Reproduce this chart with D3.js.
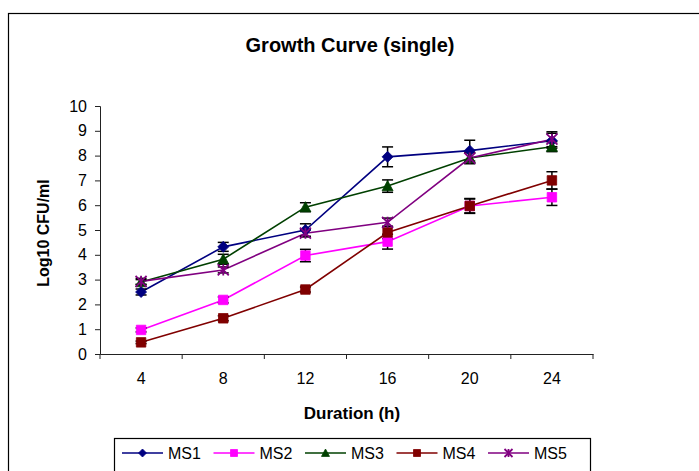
<!DOCTYPE html>
<html>
<head>
<meta charset="utf-8">
<script src="https://cdn.jsdelivr.net/npm/d3@7"></script>
<style>
  body { margin: 0; background: #fff; }
  svg { display: block; font-family: "Liberation Sans", Arial, sans-serif; }
</style>
</head>
<body>
<div id="chart"></div>
<script>
// values (log10 CFU/ml), with error bar half-widths
const hours = ["4", "8", "12", "16", "20", "24"];
const seriesNames = ["MS1", "MS2", "MS3", "MS4", "MS5"];
const ms1 = [2.5, 4.32, 5.0, 7.95, 8.2, 8.6];
const ms2 = [0.97, 2.18, 3.97, 4.53, 5.97, 6.32];
const ms3 = [2.9, 3.82, 5.92, 6.77, 7.9, 8.36];
const ms4 = [0.47, 1.44, 2.6, 4.9, 5.97, 7.0];
const ms5 = [2.93, 3.39, 4.87, 5.31, 7.9, 8.66];
const ms1Err = [0.12, 0.18, 0.25, 0.4, 0.42, 0.3];
const ms2Err = [0.08, 0.12, 0.25, 0.3, 0.28, 0.33];
const ms3Err = [0.1, 0.2, 0.18, 0.25, 0.22, 0.2];
const ms4Err = [0.05, 0.1, 0.1, 0.25, 0.3, 0.35];
const ms5Err = [0.12, 0.12, 0.15, 0.17, 0.22, 0.3];
const yTicks = [0, 1, 2, 3, 4, 5, 6, 7, 8, 9, 10];

const values = [ms1, ms2, ms3, ms4, ms5];
const errors = [ms1Err, ms2Err, ms3Err, ms4Err, ms5Err];

const colors = ["#000080", "#ff00ff", "#004000", "#800000", "#800080"];
const shapes = ["diamond", "square", "triangle", "square", "asterisk"];

const width = 699, height = 471;
const plot = { left: 100, right: 593, top: 106, bottom: 354 };

const svg = d3.select("#chart").append("svg")
  .attr("width", width)
  .attr("height", height);

// chart frame (runs off the right and bottom edge, like the reference)
svg.append("rect")
  .attr("x", 8.5).attr("y", 13.5)
  .attr("width", 720).attr("height", 480)
  .attr("fill", "none").attr("stroke", "#000").attr("stroke-width", 1.2);

var x = d3.scaleBand()
  .domain(hours)
  .range([plot.left, plot.right])
  .padding(0);

var y = d3.scaleLinear()
  .domain([0, 10])
  .range([plot.bottom, plot.top]);

function cx(i) { return x(hours[i]) + x.bandwidth() / 2; }

function markerPath(shape, s) {
  var r = s / 2;
  if (shape === "diamond") return "M0," + (-r) + "L" + r + ",0L0," + r + "L" + (-r) + ",0Z";
  if (shape === "triangle") return "M0," + (-r) + "L" + r + "," + (r * 0.85) + "L" + (-r) + "," + (r * 0.85) + "Z";
  if (shape === "asterisk") {
    return "M" + (-r) + "," + (-r) + "L" + r + "," + r +
      "M" + (-r) + "," + r + "L" + r + "," + (-r) +
      "M0," + (-r) + "L0," + r;
  }
  return d3.symbol(d3.symbolSquare, s * s)();
}

function drawMarker(g, shape, color, s) {
  var p = g.append("path").attr("d", markerPath(shape, s));
  if (shape === "asterisk") {
    p.attr("fill", "none").attr("stroke", color).attr("stroke-width", 1.8);
  } else {
    p.attr("fill", color).attr("stroke", color).attr("stroke-width", 0.8);
  }
  return p;
}

// y axis
var yAxis = svg.append("g")
  .attr("transform", "translate(" + plot.left + ",0)")
  .call(d3.axisLeft(y).tickValues(yTicks).tickSize(5).tickPadding(8));
yAxis.select(".domain").attr("stroke", "#222");
yAxis.selectAll(".tick line").attr("stroke", "#222");
yAxis.selectAll("text").attr("font-size", 16).attr("fill", "#000")
  .attr("font-family", "Liberation Sans, Arial, sans-serif");

// x axis: labels in the middle of each band, tick marks on band edges
var xAxis = svg.append("g")
  .attr("transform", "translate(0," + plot.bottom + ")")
  .call(d3.axisBottom(x).tickSize(0).tickPadding(19).tickSizeOuter(0));
xAxis.select(".domain").attr("stroke", "#222");
xAxis.selectAll("text").attr("font-size", 16).attr("fill", "#000")
  .attr("font-family", "Liberation Sans, Arial, sans-serif");
xAxis.selectAll("line.edge")
  .data(hours.concat(["end"]))
  .enter().append("line")
  .attr("class", "edge")
  .attr("x1", function(d, i) { return plot.left + i * x.bandwidth(); })
  .attr("x2", function(d, i) { return plot.left + i * x.bandwidth(); })
  .attr("y1", 0).attr("y2", 5)
  .attr("stroke", "#222");

// lines
var line = d3.line()
  .x(function(d, i) { return cx(i); })
  .y(function(d) { return y(d); });

values.forEach(function(v, k) {
  svg.append("path")
    .datum(v)
    .attr("d", line)
    .attr("fill", "none")
    .attr("stroke", colors[k])
    .attr("stroke-width", 1.6);
});

// error bars
values.forEach(function(v, k) {
  var g = svg.append("g").attr("class", "err");
  v.forEach(function(val, i) {
    var e = errors[k][i];
    var px = cx(i);
    g.append("line")
      .attr("x1", px).attr("x2", px)
      .attr("y1", y(val + e)).attr("y2", y(val - e))
      .attr("stroke", "#000").attr("stroke-width", 1.5);
    [val + e, val - e].forEach(function(t) {
      g.append("line")
        .attr("x1", px - 5.5).attr("x2", px + 5.5)
        .attr("y1", y(t)).attr("y2", y(t))
        .attr("stroke", "#000").attr("stroke-width", 1.5);
    });
  });
});

// markers
values.forEach(function(v, k) {
  v.forEach(function(val, i) {
    var g = svg.append("g")
      .attr("transform", "translate(" + cx(i) + "," + y(val) + ")");
    drawMarker(g, shapes[k], colors[k], shapes[k] === "square" ? 9.5 : 11);
  });
});

// titles
svg.append("text")
  .attr("x", 350).attr("y", 52)
  .attr("text-anchor", "middle")
  .attr("font-size", 20).attr("font-weight", "bold")
  .text("Growth Curve (single)");

svg.append("text")
  .attr("x", 352).attr("y", 419)
  .attr("text-anchor", "middle")
  .attr("font-size", 17).attr("font-weight", "bold")
  .text("Duration (h)");

svg.append("text")
  .attr("transform", "translate(49,233) rotate(-90)")
  .attr("text-anchor", "middle")
  .attr("font-size", 16).attr("font-weight", "bold")
  .text("Log10 CFU/ml");

// legend
var legend = svg.append("g");
legend.append("rect")
  .attr("x", 114.5).attr("y", 438.5)
  .attr("width", 476).attr("height", 50)
  .attr("fill", "#fff").attr("stroke", "#000").attr("stroke-width", 1.2);

seriesNames.forEach(function(name, k) {
  var x0 = 122 + k * 91.5;
  var item = legend.append("g").attr("transform", "translate(" + x0 + ",453)");
  item.append("line")
    .attr("x1", 0).attr("x2", 41)
    .attr("y1", 0).attr("y2", 0)
    .attr("stroke", colors[k]).attr("stroke-width", 1.6);
  var m = item.append("g").attr("transform", "translate(20.5,0)");
  drawMarker(m, shapes[k], colors[k], shapes[k] === "square" ? 7 : 8);
  item.append("text")
    .attr("x", 46).attr("y", 6)
    .attr("font-size", 16)
    .text(name);
});
</script>
</body>
</html>
